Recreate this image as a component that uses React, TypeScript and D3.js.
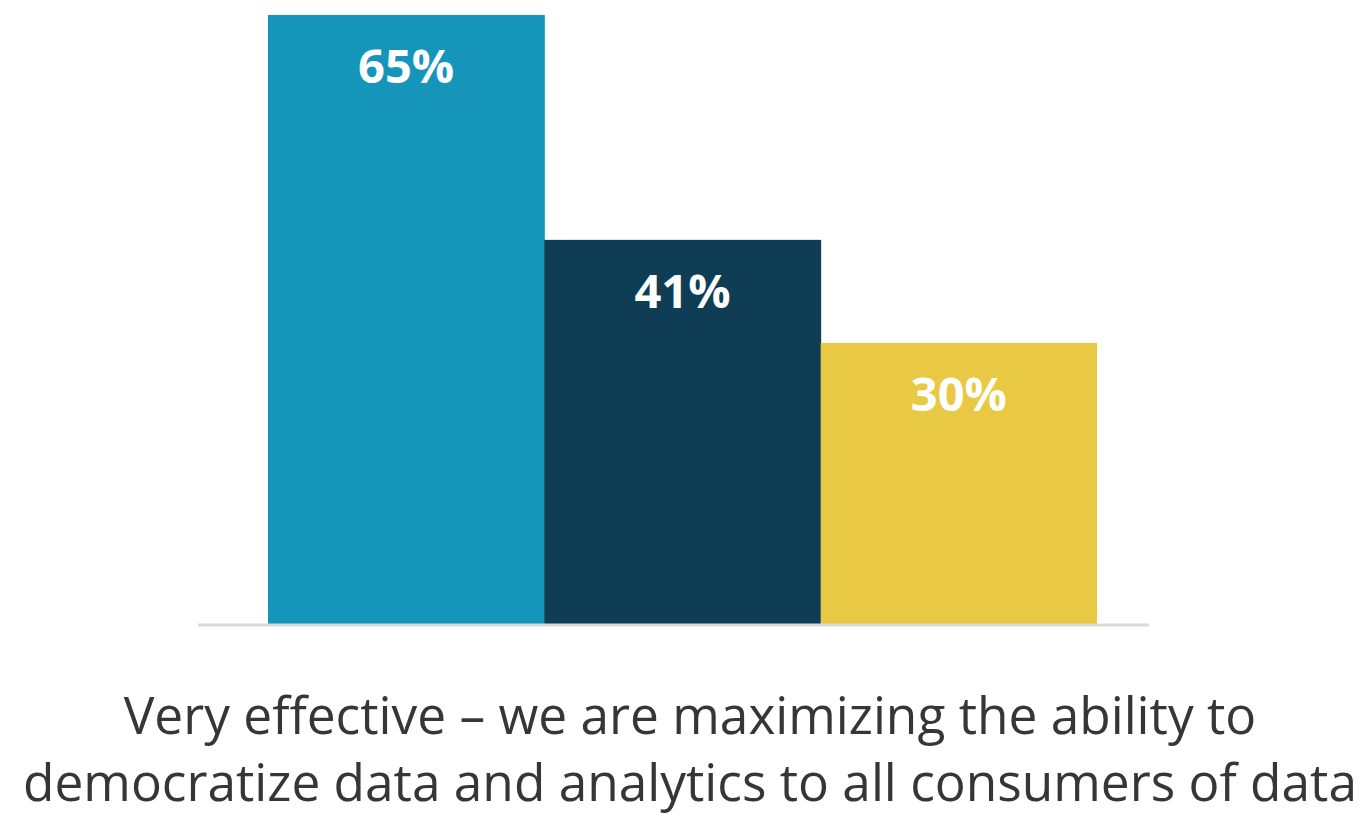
import React from "react";
import * as d3 from "d3";

const categories = ["Group A", "Group B", "Group C"];
const values = [65, 41, 30];
const colors = ["#1695bb", "#0f3d56", "#e9c843"];
const captionLines = [
  "Very effective – we are maximizing the ability to",
  "democratize data and analytics to all consumers of data",
];

export default function App() {
  const W = 1362;
  const H = 815;
  const x = d3.scaleBand<string>().domain(categories).range([268, 1097]).padding(0);
  const y = d3.scaleLinear().domain([0, 65]).range([624, 15]);
  const fmt = (v: number) => `${v}%`;

  return (
    <svg
      width={W}
      height={H}
      style={{ position: "absolute", left: 0, top: 0, background: "#fff" }}
    >
      {categories.map((c, i) => (
        <rect
          key={c}
          x={x(c)!}
          y={y(values[i])}
          width={x.bandwidth() + (i < categories.length - 1 ? 0.5 : 0)}
          height={y(0) - y(values[i])}
          fill={colors[i]}
        />
      ))}
      <line x1={198} x2={1149} y1={625} y2={625} stroke="#d9d9d9" strokeWidth={3} />
      {categories.map((c, i) => (
        <text
          key={c + "-l"}
          x={x(c)! + x.bandwidth() / 2}
          y={y(values[i]) + 68}
          textAnchor="middle"
          fill="#ffffff"
          fontFamily="'Open Sans', sans-serif"
          fontWeight={700}
          fontSize={47}
        >
          {fmt(values[i])}
        </text>
      ))}
      {captionLines.map((t, i) => (
        <text
          key={i}
          x={690}
          y={734 + i * 67}
          textAnchor="middle"
          fill="#363636"
          fontFamily="'Open Sans', sans-serif"
          fontSize={51.4}
        >
          {t}
        </text>
      ))}
    </svg>
  );
}
